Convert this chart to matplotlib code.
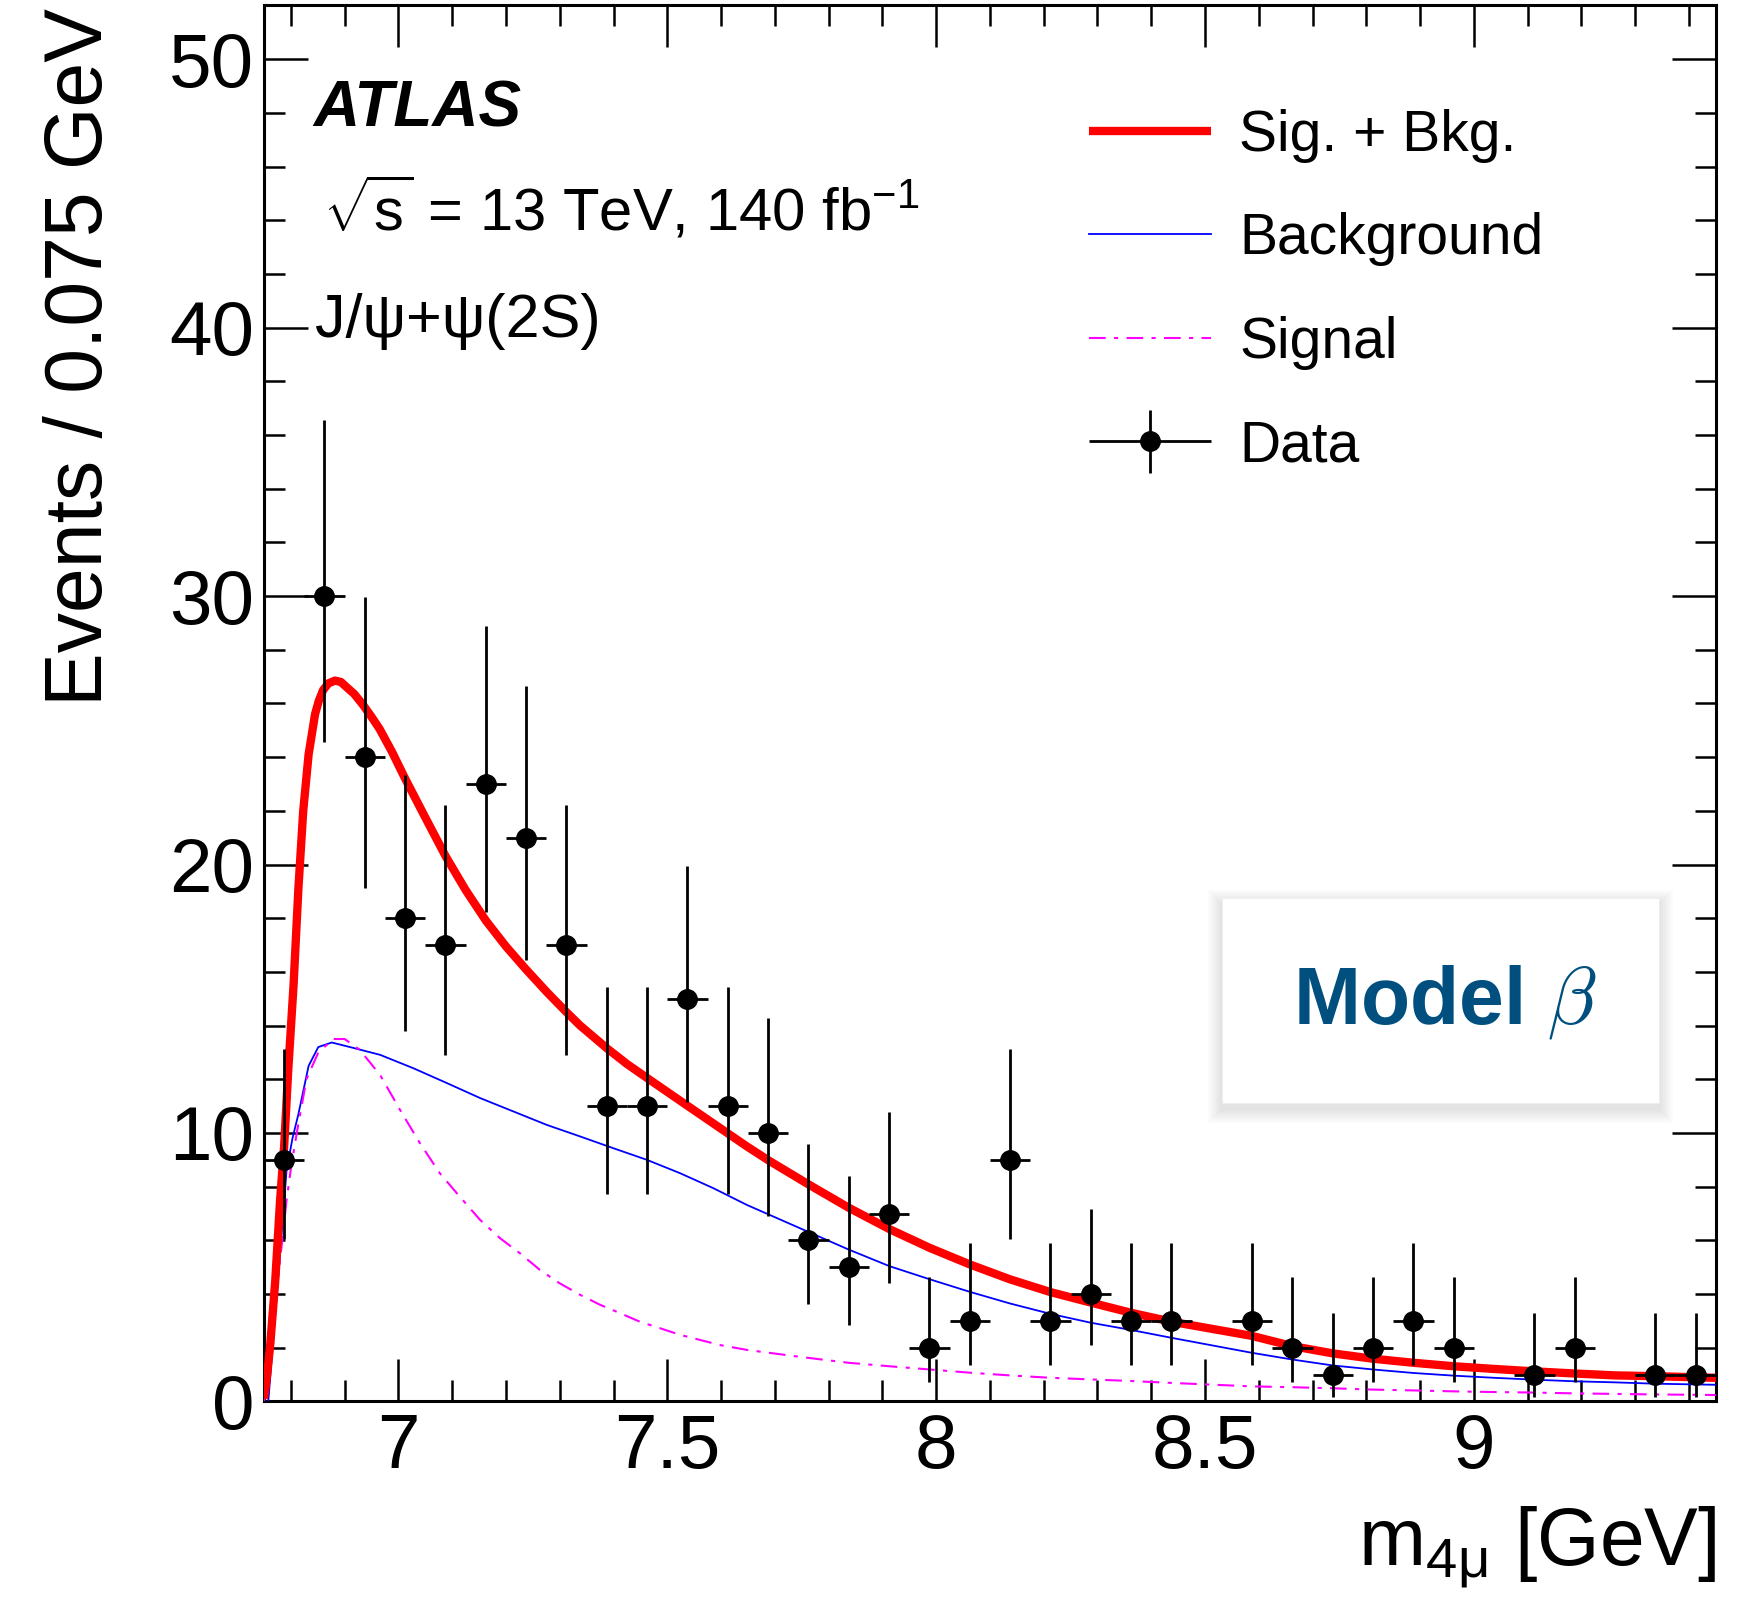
import matplotlib
matplotlib.use("Agg")
import matplotlib.pyplot as plt
import numpy as np
from matplotlib.patches import Rectangle
from matplotlib.container import ErrorbarContainer
from matplotlib.legend_handler import HandlerErrorbar
from matplotlib.ticker import MultipleLocator, FormatStrFormatter

plt.rcParams['font.family'] = ['Liberation Sans', 'DejaVu Sans']
plt.rcParams['mathtext.fontset'] = 'custom'
plt.rcParams['mathtext.rm'] = 'Liberation Sans'
plt.rcParams['mathtext.it'] = 'Liberation Sans:italic'
plt.rcParams['mathtext.bf'] = 'Liberation Sans:bold'

# data: events per 0.075 GeV bin (empty bins are not drawn)
bin_centers = [6.7875, 6.8625, 6.9375, 7.0125, 7.0875, 7.1625, 7.2375, 7.3125,
               7.3875, 7.4625, 7.5375, 7.6125, 7.6875, 7.7625, 7.8375, 7.9125,
               7.9875, 8.0625, 8.1375, 8.2125, 8.2875, 8.3625, 8.4375, 8.5875,
               8.6625, 8.7375, 8.8125, 8.8875, 8.9625, 9.1125, 9.1875, 9.3375, 9.4125]
counts = [9, 30, 24, 18, 17, 23, 21, 17, 11, 11, 15, 11, 10, 6, 5, 7, 2, 3, 9, 3,
          4, 3, 3, 3, 2, 1, 2, 3, 2, 1, 2, 1, 1]
err_lo = [2.94, 5.45, 4.86, 4.20, 4.08, 4.76, 4.55, 4.08, 3.26, 3.26, 3.83, 3.26,
          3.11, 2.38, 2.16, 2.58, 1.29, 1.63, 2.94, 1.63, 1.91, 1.63, 1.63, 1.63,
          1.29, 0.83, 1.29, 1.63, 1.29, 0.83, 1.29, 0.83, 0.83]
err_hi = [4.11, 6.54, 5.97, 5.32, 5.20, 5.87, 5.65, 5.20, 4.42, 4.42, 4.96, 4.42,
          4.27, 3.58, 3.38, 3.77, 2.64, 2.92, 4.11, 2.92, 3.16, 2.92, 2.92, 2.92,
          2.64, 2.30, 2.64, 2.92, 2.64, 2.30, 2.64, 2.30, 2.30]
bin_half = 0.0375

# fitted curves
sb_x = [6.750, 6.756, 6.762, 6.771, 6.780, 6.7875, 6.795, 6.805, 6.814, 6.823,
        6.833, 6.845, 6.852, 6.860, 6.870, 6.882, 6.893, 6.904, 6.918, 6.934,
        6.950, 6.965, 6.988, 7.0125, 7.050, 7.088, 7.125, 7.163, 7.200, 7.237,
        7.276, 7.3125, 7.338, 7.388, 7.425, 7.463, 7.524, 7.586, 7.648, 7.689,
        7.763, 7.837, 7.913, 7.988, 8.063, 8.137, 8.213, 8.288, 8.363, 8.4375,
        8.5875, 8.6625, 8.7375, 8.8125, 8.8875, 8.9625, 9.0375, 9.1125, 9.1875,
        9.2625, 9.3375, 9.4125, 9.45]
sb_y = [0.1, 1.0, 2.2, 4.5, 7.5, 9.5, 12.3, 15.5, 19.1, 22.0,
        24.1, 25.6, 26.1, 26.5, 26.75, 26.85, 26.8, 26.6, 26.35, 25.95,
        25.5, 25.05, 24.2, 23.2, 21.75, 20.3, 19.05, 17.9, 16.95, 16.1,
        15.25, 14.5, 14.0, 13.15, 12.57, 12.04, 11.2, 10.35, 9.5, 8.97,
        8.08, 7.22, 6.42, 5.72, 5.1, 4.55, 4.07, 3.68, 3.3, 2.97,
        2.44, 2.06, 1.79, 1.59, 1.44, 1.31, 1.21, 1.12, 1.04,
        0.97, 0.94, 0.90, 0.88]

bkg_x = [6.758, 6.766, 6.774, 6.783, 6.792, 6.803, 6.814, 6.833, 6.851, 6.876,
         6.910, 6.966, 7.028, 7.090, 7.152, 7.214, 7.276, 7.338, 7.400, 7.462,
         7.524, 7.586, 7.648, 7.747, 7.837, 7.913, 7.988, 8.063, 8.137, 8.213,
         8.288, 8.363, 8.4375, 8.5875, 8.6625, 8.7375, 8.8125, 8.8875, 8.9625,
         9.0375, 9.1125, 9.1875, 9.2625, 9.3375, 9.45]
bkg_y = [0.0, 2.0, 4.0, 6.3, 8.6, 9.8, 10.7, 12.5, 13.2, 13.37,
         13.2, 12.91, 12.41, 11.86, 11.30, 10.80, 10.30, 9.87, 9.43, 9.0,
         8.50, 7.94, 7.32, 6.45, 5.66, 5.04, 4.55, 4.08, 3.65, 3.26,
         2.93, 2.66, 2.37, 1.81, 1.56, 1.34, 1.19, 1.06, 0.96,
         0.88, 0.81, 0.75, 0.71, 0.66, 0.62]

sig_x = [6.750, 6.755, 6.765, 6.774, 6.784, 6.792, 6.801, 6.811, 6.829, 6.851,
         6.879, 6.900, 6.928, 6.966, 7.003, 7.040, 7.077, 7.114, 7.152, 7.189,
         7.226, 7.263, 7.300, 7.338, 7.375, 7.412, 7.449, 7.486, 7.524, 7.561,
         7.598, 7.648, 7.747, 7.837, 7.913, 7.988, 8.063, 8.137, 8.213, 8.288,
         8.363, 8.4375, 8.5875, 8.6625, 8.7375, 8.8125, 8.8875, 8.9625, 9.0375,
         9.1125, 9.1875, 9.2625, 9.3375, 9.45]
sig_y = [0.0, 1.2, 2.6, 4.3, 6.0, 7.5, 8.8, 10.0, 12.0, 13.0,
         13.5, 13.5, 13.1, 12.16, 10.86, 9.62, 8.50, 7.63, 6.76, 6.08,
         5.52, 4.90, 4.40, 3.97, 3.60, 3.29, 2.97, 2.73, 2.48, 2.29,
         2.10, 1.92, 1.66, 1.44, 1.31, 1.19, 1.07, 0.97, 0.88, 0.82,
         0.76, 0.69, 0.56, 0.53, 0.49, 0.44, 0.41, 0.375, 0.35,
         0.33, 0.30, 0.28, 0.26, 0.24]

fig = plt.figure(figsize=(17.47, 16.02), dpi=100)
ax = fig.add_axes([0.1511, 0.1252, 0.8311, 0.8714])

red, = ax.plot(sb_x, sb_y, color='#ff0000', lw=6, zorder=4,
               solid_capstyle='butt', solid_joinstyle='round')
blue, = ax.plot(bkg_x, bkg_y, color='#0000ff', lw=1.3, zorder=3)
mag, = ax.plot(sig_x, sig_y, color='#ff00ff', lw=1.5, zorder=3,
               linestyle=(0, (8, 4, 2, 4)))

data = ax.errorbar(bin_centers, counts, yerr=[err_lo, err_hi], xerr=bin_half,
                   fmt='o', color='black', ms=14, elinewidth=2, capsize=0, zorder=5)

ax.set_xlim(6.75, 9.45)
ax.set_ylim(0, 52)
ax.xaxis.set_major_locator(MultipleLocator(0.5))
ax.xaxis.set_minor_locator(MultipleLocator(0.1))
ax.xaxis.set_major_formatter(FormatStrFormatter('%g'))
ax.yaxis.set_major_locator(MultipleLocator(10))
ax.yaxis.set_minor_locator(MultipleLocator(2))
ax.tick_params(which='both', direction='in', top=True, right=True, width=1.8,
               labelsize=55)
ax.tick_params(axis='x', which='major', length=30, pad=8)
ax.tick_params(axis='x', which='minor', length=15)
ax.tick_params(axis='y', which='major', length=32, pad=7)
ax.tick_params(axis='y', which='minor', length=15)
for s in ax.spines.values():
    s.set_linewidth(2.2)

fig.text(0.0461, 0.5595, 'Events / 0.075 GeV', rotation=90, ha='center',
         va='bottom', fontsize=58)
fig.text(0.9823, 0.0231, r'm$_{\mathregular{4μ}}$ [GeV]', ha='right',
         va='baseline', fontsize=58)

ax.text(0.0337, 0.913, 'ATLAS', transform=ax.transAxes, fontsize=46,
        fontweight='bold', style='italic', va='baseline')
ax.text(0.0406, 0.839, r'$\sqrt{\mathregular{s}}$ = 13 TeV, 140 fb$^{\mathregular{-1}}$',
        transform=ax.transAxes, fontsize=43, va='baseline')
ax.text(0.035, 0.7626, 'J/ψ+ψ(2S)', transform=ax.transAxes, fontsize=44,
        va='baseline')

leg = ax.legend([red, blue, mag, data], ['Sig. + Bkg.', 'Background', 'Signal', 'Data'],
                loc='upper left', bbox_to_anchor=(0.568, 0.926), frameon=False,
                fontsize=41, handlelength=2.14, handletextpad=0.5,
                labelspacing=0.87, borderpad=0, borderaxespad=0,
                handler_map={ErrorbarContainer: HandlerErrorbar(xerr_size=1.07,
                                                                yerr_size=0.55)})

# "Model beta" box with soft shadow
bx0, by0, bw, bh = 0.660, 0.2139, 0.301, 0.1468
for k in range(7, 0, -1):
    px = k * 2.0
    ax.add_patch(Rectangle((bx0 - px / 1452, by0 - px / 1396 - 6 / 1396),
                           bw + 2 * px / 1452, bh + 2 * px / 1396,
                           transform=ax.transAxes, facecolor='black', alpha=0.015,
                           edgecolor='none', zorder=6))
ax.add_patch(Rectangle((bx0, by0), bw, bh, transform=ax.transAxes,
                       facecolor='white', edgecolor='#eeeeee', lw=0.8, zorder=7))
ax.text(0.8137, 0.2704, r'Model $\beta$', transform=ax.transAxes, ha='center',
        va='baseline', fontsize=58, fontweight='bold', color='#004f7e',
        math_fontfamily='cm', zorder=8)

fig.savefig('out.png', dpi=100)
